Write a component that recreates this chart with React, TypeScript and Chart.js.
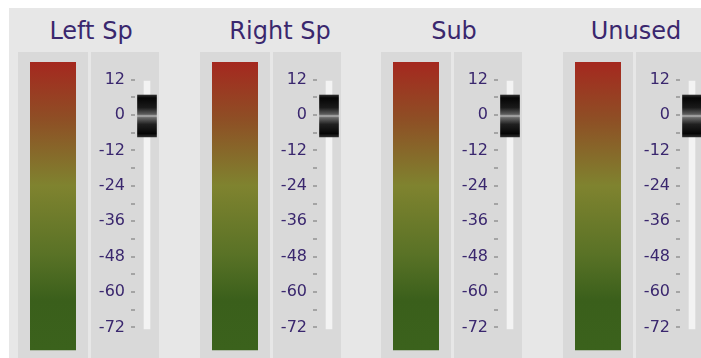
import React, { useEffect, useRef } from "react";
import { Chart, registerables } from "chart.js";

Chart.register(...registerables);

// ---- data ----
const channelNames = ["Left Sp", "Right Sp", "Sub", "Unused"];
const faderLevels = [0, 0, 0, 0];
const meterLow = [-79.6, -79.6, -79.6, -79.6];
const meterHigh = [18, 18, 18, 18];
const trackRange = [-72.5, 11.5];
const knobSpan = [-7.4, 6.8];
const tickValues = [12, 6, 0, -6, -12, -18, -24, -30, -36, -42, -48, -54, -60, -66, -72];
const labeledTicks = [12, 0, -12, -24, -36, -48, -60, -72];
const scaleMin = -80;
const scaleMax = 18;

// ---- layout / style ----
const groupLeft = [18, 200, 381, 563];
const titleCenter = [91, 280, 454, 636];
const textColor = "#3a276e";
const panelColor = "#d9d9d9";
const outerColor = "#e7e7e7";
const meterStops: [number, string][] = [
  [0, "#a5281f"],
  [0.2, "#8e4f25"],
  [0.43, "#7f832f"],
  [0.67, "#597226"],
  [0.83, "#3a5f1b"],
  [1, "#3b621c"],
];
const knobStops: [number, string][] = [
  [0, "#2c2c2c"],
  [0.07, "#050505"],
  [0.3, "#1a1a1a"],
  [0.46, "#5e5e5e"],
  [0.5, "#b4b4b4"],
  [0.54, "#6a6a6a"],
  [0.7, "#202020"],
  [0.92, "#050505"],
  [1, "#2c2c2c"],
];

function Channel({ idx }: { idx: number }) {
  const meterRef = useRef<HTMLCanvasElement>(null);
  const faderRef = useRef<HTMLCanvasElement>(null);

  useEffect(() => {
    const meter = new Chart(meterRef.current as HTMLCanvasElement, {
      type: "bar",
      data: {
        labels: ["meter"],
        datasets: [
          {
            data: [[meterLow[idx], meterHigh[idx]]] as any,
            backgroundColor: (c: any) => {
              const chart = c.chart;
              if (!chart.chartArea) return "#7f832f";
              const y = chart.scales.y;
              const g = chart.ctx.createLinearGradient(
                0,
                y.getPixelForValue(meterHigh[idx]),
                0,
                y.getPixelForValue(meterLow[idx])
              );
              meterStops.forEach(([o, col]) => g.addColorStop(o, col));
              return g;
            },
            borderWidth: 0,
            barPercentage: 1,
            categoryPercentage: 1,
          },
        ],
      },
      options: {
        responsive: false,
        animation: false,
        layout: { padding: { top: 10, bottom: 7, left: 12, right: 12 } },
        plugins: { legend: { display: false }, tooltip: { enabled: false } },
        scales: {
          x: { display: false },
          y: { display: false, min: scaleMin, max: scaleMax },
        },
      },
    });

    const lvl = faderLevels[idx];
    const fader = new Chart(faderRef.current as HTMLCanvasElement, {
      type: "bar",
      data: {
        labels: ["fader"],
        datasets: [
          {
            data: [[lvl + knobSpan[0], lvl + knobSpan[1]]] as any,
            backgroundColor: (c: any) => {
              const chart = c.chart;
              if (!chart.chartArea) return "#222";
              const y = chart.scales.y;
              const g = chart.ctx.createLinearGradient(
                0,
                y.getPixelForValue(lvl + knobSpan[1]),
                0,
                y.getPixelForValue(lvl + knobSpan[0])
              );
              knobStops.forEach(([o, col]) => g.addColorStop(o, col));
              return g;
            },
            borderWidth: 0,
            barThickness: 19,
            grouped: false,
            order: 0,
          } as any,
          {
            data: [[trackRange[0], trackRange[1]]] as any,
            backgroundColor: "#f3f3f3",
            borderWidth: 0,
            barThickness: 6,
            grouped: false,
            order: 1,
          } as any,
        ],
      },
      options: {
        responsive: false,
        animation: false,
        layout: { padding: { top: 10, bottom: 7, left: 0, right: 0 } },
        plugins: { legend: { display: false }, tooltip: { enabled: false } },
        scales: {
          x: { display: false },
          y: {
            position: "left",
            min: scaleMin,
            max: scaleMax,
            afterBuildTicks: (s: any) => {
              s.ticks = tickValues.map((v) => ({ value: v }));
            },
            afterFit: (s: any) => {
              s.width = 44;
              s.paddingTop = 0;
              s.paddingBottom = 0;
            },
            border: { display: false },
            grid: {
              drawOnChartArea: false,
              drawTicks: true,
              tickLength: 4,
              color: "#a4a4a4",
              lineWidth: 2,
            },
            ticks: {
              autoSkip: false,
              padding: 6,
              color: textColor,
              font: { family: "DejaVu Sans", size: 16 },
              callback: (v: any) => (labeledTicks.includes(Number(v)) ? String(v) : ""),
            },
          },
        },
      },
    });

    return () => {
      meter.destroy();
      fader.destroy();
    };
  }, [idx]);

  const left = groupLeft[idx];
  return (
    <>
      <div
        style={{
          position: "absolute",
          left: titleCenter[idx] - 100,
          top: 19,
          width: 200,
          textAlign: "center",
          fontFamily: "DejaVu Sans",
          fontSize: 24,
          lineHeight: "24px",
          color: textColor,
          whiteSpace: "nowrap",
        }}
      >
        {channelNames[idx]}
      </div>
      <div style={{ position: "absolute", left, top: 52, width: 70, height: 306, background: panelColor }}>
        <canvas ref={meterRef} width={70} height={306} style={{ display: "block" }} />
      </div>
      <div style={{ position: "absolute", left: left + 73, top: 52, width: 68, height: 306, background: panelColor }}>
        <canvas ref={faderRef} width={68} height={306} style={{ display: "block" }} />
      </div>
    </>
  );
}

export default function App() {
  return (
    <div
      style={{
        position: "absolute",
        left: 0,
        top: 0,
        width: 701,
        height: 358,
        overflow: "hidden",
        background: "#ffffff",
      }}
    >
      <div style={{ position: "absolute", left: 9, top: 8, width: 692, height: 350, background: outerColor }} />
      {channelNames.map((_, i) => (
        <Channel key={i} idx={i} />
      ))}
    </div>
  );
}
